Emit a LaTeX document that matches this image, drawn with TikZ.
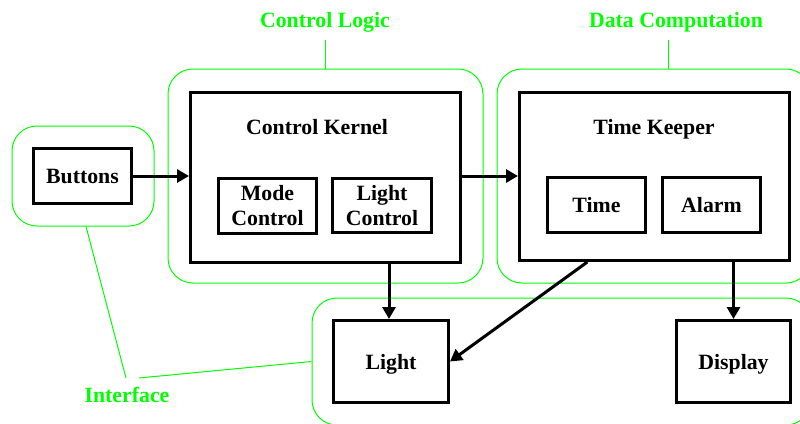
\documentclass[tikz,border=0pt]{standalone}
\usepackage{fontspec}
\setmainfont{Liberation Serif}
\usetikzlibrary{arrows.meta,calc}
\definecolor{groupgreen}{RGB}{0,255,0}
\newcommand\boxfont{\fontsize{10.9pt}{12.5pt}\selectfont\bfseries}

\begin{document}
\begin{tikzpicture}[x=0.5pt,y=-0.5pt,
  box/.style={draw, line width=1.5pt, inner sep=0pt, align=center, font=\boxfont},
  onebox/.style={box, text depth=0pt},
  caption/.style={inner sep=0pt, anchor=base, font=\boxfont},
  group/.style={draw=groupgreen, line width=0.5pt, rounded corners=12.5pt, inner sep=0pt},
  grouplabel/.style={caption, text=groupgreen},
  leader/.style={draw=groupgreen, line width=0.5pt},
  flow/.style={line width=1.5pt, -{Triangle[length=6pt,width=6.5pt]}}]

\useasboundingbox (0,0) rectangle (800,424);
\clip (0,0) rectangle (800,424);

% subsystem groupings
\node[group, minimum width=71pt,    minimum height=50pt]   (iface1) at (83,176)      {};
\node[group, minimum width=157.5pt, minimum height=107pt]  (logic)  at (325.5,176)   {};
\node[group, minimum width=157pt,   minimum height=107pt]  (datac)  at (654,176)     {};
\node[group, minimum width=249.5pt, minimum height=63.5pt] (iface2) at (561.5,361.5) {};

% components
\node[onebox, minimum width=49pt,   minimum height=27.5pt] (buttons) at (82.5,176)   {Buttons};
\node[box,    minimum width=135pt,  minimum height=85pt]   (kernel)  at (325.5,177.5) {};
\node[caption] (kernellbl) at (317,134) {Control Kernel};
\node[box,    minimum width=49pt,   minimum height=27.5pt] (mode)    at (267.5,206)  {Mode\\Control};
\node[box,    minimum width=49.5pt, minimum height=27pt]   (lightc)  at (382,205.5)  {Light\\Control};
\node[box,    minimum width=135pt,  minimum height=84pt]   (keeper)  at (654.5,176.5) {};
\node[caption] (keeperlbl) at (654,134) {Time Keeper};
\node[onebox, minimum width=49pt,   minimum height=27.5pt] (time)    at (596.5,205)  {Time};
\node[onebox, minimum width=49pt,   minimum height=27.5pt] (alarm)   at (711.5,205)  {Alarm};
\node[onebox, minimum width=57.5pt, minimum height=41pt]   (light)   at (391,361.5)  {Light};
\node[onebox, minimum width=57pt,   minimum height=41pt]   (display) at (733.5,361.5) {Display};

% group captions and their leader lines
\node[grouplabel] (ctl)  at (325,27)  {Control Logic};
\node[grouplabel] (dcl)  at (676,27)  {Data Computation};
\node[grouplabel] (ifl)  at (127,402) {Interface};

\coordinate (ctlfoot) at ($(ctl.base)+(0,13)$);
\coordinate (dclfoot) at ($(dcl.base)+(-8,13)$);
\draw[leader] (ctlfoot) -- (ctlfoot |- logic.north);
\draw[leader] (dclfoot) -- (dclfoot |- datac.north);
\draw[leader] ($(iface1.south)+(3,0)$) -- ($(ifl.base)+(-1,-24)$);
\draw[leader] ($(ifl.base)+(12,-24)$) -- (iface2.west);

% data flow
\coordinate (kl) at ($(light.north)+(-2,0)$);
\draw[flow] (buttons.east) -- (buttons.east -| kernel.west);
\draw[flow] (kernel.east |- buttons.east) -- (keeper.west |- buttons.east);
\draw[flow] (kl |- kernel.south) -- (kl);
\draw[flow] ($(keeper.south west)!0.254!(keeper.south east)$) -- (light.east);
\draw[flow] (display.north |- keeper.south) -- (display.north);
\end{tikzpicture}
\end{document}
